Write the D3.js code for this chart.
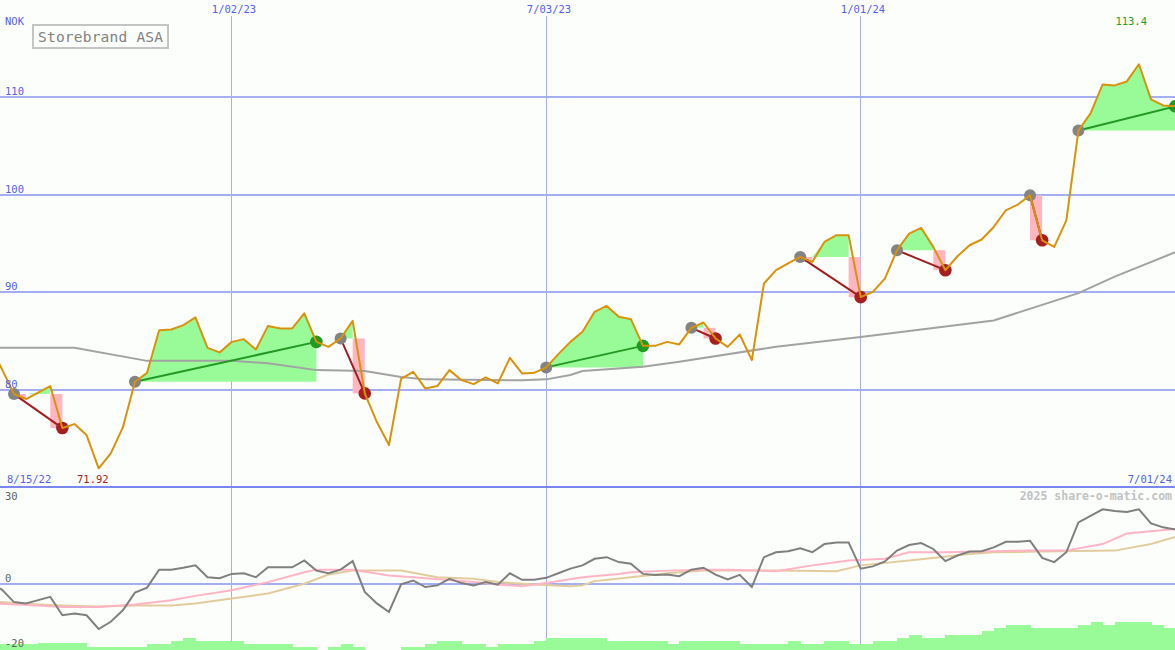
<!DOCTYPE html>
<html><head><meta charset="utf-8">
<script src="https://cdn.jsdelivr.net/npm/d3@7"></script>
<style>
html,body{margin:0;padding:0;background:#fcfefc;}
svg{display:block;}
text{font-family:"DejaVu Sans Mono","Liberation Mono",monospace;}
</style>
</head><body>
<svg id="chart" width="1175" height="650"></svg>
<script>
// ---------- DATA (weekly, first week = 8/15/22) ----------
const firstWeek = "2022-08-15";
const lastDate = "2024-07-01";
const price = [
 84.5, 82.1, 79.54, 79.03, 79.69, 80.36, 76.05, 76.46, 75.33, 71.92,
 73.46, 76.12, 80.8, 81.72, 86.1, 86.17, 86.62, 87.41, 84.29, 83.82,
 84.9, 85.18, 84.12, 86.54, 86.28, 86.28, 87.82, 84.9, 84.39, 85.25,
 87.06, 79.61, 76.67, 74.31, 81.1, 81.83, 80.12, 80.36, 82.0, 80.97,
 80.56, 81.25, 80.64, 83.26, 81.66, 81.72, 82.28, 83.64, 84.9, 85.93,
 87.98, 88.59, 87.47, 87.23, 84.49, 84.49, 84.9, 84.64, 86.34, 86.89,
 85.25, 84.39, 85.66, 83.03, 90.89, 92.26, 92.97, 93.62, 93.11, 95.16,
 95.85, 95.85, 89.49, 90.03, 91.4, 94.31, 96.02, 96.6, 94.65, 92.26,
 93.69, 94.82, 95.41, 96.7, 98.41, 99.0, 99.95, 95.33, 94.65, 97.38,
 106.6, 108.36, 111.33, 111.23, 111.64, 113.4, 109.79, 109.18, 109.08
];
// moving average (week index, value)
const maWeek  = [0, 7, 13, 20, 23, 27, 31, 34, 36, 44, 46, 48, 49, 54, 57, 65, 72, 83, 87, 90, 93, 98];
const maValue = [84.3, 84.3, 82.95, 82.95, 82.7, 82.0, 81.9, 81.3, 81.05, 80.95, 81.05, 81.5, 81.9, 82.35, 82.85, 84.4, 85.4, 87.1, 88.7, 89.9, 91.6, 94.1];
// signals (week indices)
const signalStart = [2, 12, 29, 46, 58, 67, 75, 86, 90];
const signalEnd   = [6, 27, 31, 54, 60, 72, 79, 87, 98];
// lower panel oscillator (weekly)
const osc = [
 0.5, -1.6, -5.4, -5.8, -4.8, -3.8, -9.4, -8.9, -9.4, -13.6,
 -11.4, -7.9, -2.5, -1.0, 4.5, 4.5, 5.1, 5.8, 2.2, 1.9,
 3.2, 3.4, 2.2, 5.2, 5.2, 5.2, 7.3, 4.2, 3.4, 4.5,
 7.1, -2.3, -5.8, -8.4, 0.0, 1.2, -0.8, -0.3, 1.7, 0.4,
 -0.3, 0.7, -0.1, 3.4, 1.4, 1.4, 2.0, 3.4, 4.8, 5.8,
 7.8, 8.3, 6.8, 6.3, 3.2, 2.9, 3.0, 2.5, 4.5, 5.1,
 3.0, 1.5, 2.9, -0.8, 8.3, 9.8, 10.1, 11.0, 9.8, 12.3,
 12.8, 12.8, 4.8, 5.5, 7.0, 10.3, 12.0, 12.6, 10.8, 7.1,
 8.8, 10.0, 10.1, 11.3, 13.0, 13.0, 13.3, 8.1, 6.8, 9.8,
 18.9, 20.9, 22.9, 22.4, 22.1, 22.9, 18.6, 17.4, 16.7
];
const pinkWeek  = [0, 4, 6, 9, 12, 15, 17, 20, 23, 26, 27, 30, 33, 35, 40, 42, 44, 46, 49, 52, 53, 56, 59, 61, 65, 68, 71, 74, 76, 79, 83, 86, 89, 92, 94, 98];
const pinkValue = [-5.8, -6.4, -6.9, -6.9, -6.1, -4.8, -3.5, -1.8, 0.7, 3.7, 4.5, 4.5, 2.7, 2.2, 0.7, 0, -0.6, 0.4, 2.2, 3.2, 3.7, 4.2, 4.5, 4.5, 4.0, 5.8, 7.3, 7.8, 9.8, 9.8, 10.1, 10.3, 10.3, 12.3, 15.5, 16.9];
const tanWeek  = [0, 4, 6, 9, 12, 15, 17, 20, 23, 26, 28, 30, 34, 37, 40, 42, 45, 48, 49, 50, 53, 56, 59, 61, 65, 70, 72, 76, 81, 83, 87, 93, 96, 98];
const tanValue = [-5.2, -6.1, -6.4, -6.7, -6.4, -6.4, -5.8, -4.3, -2.8, 0.2, 3.0, 4.2, 4.2, 2.2, 1.7, 0.7, 0, -0.6, -0.3, 1.0, 2.2, 3.4, 4.2, 4.2, 4.2, 4.0, 5.8, 7.3, 9.3, 9.8, 10.0, 10.3, 12.3, 14.5];
// histogram at the bottom (weekly)
const volume = [
 1.9, 1.9, 1.9, 1.9, 2.15, 2.15, 2.15, 2.15, 1.1, 1.1,
 1.1, 1.1, 1.1, 1.9, 1.9, 3.0, 3.8, 2.9, 2.9, 2.9,
 2.9, 1.9, 1.9, 1.9, 1.9, 1.1, 1.1, 0, 1.1, 1.9,
 1.1, 0, 0, 0, 1.1, 1.1, 1.9, 2.9, 2.9, 1.9,
 1.9, 1.1, 1.9, 1.9, 1.9, 2.9, 4.0, 4.0, 4.0, 4.0,
 4.0, 2.9, 2.9, 2.9, 2.9, 2.9, 1.9, 2.9, 2.9, 2.9,
 2.9, 2.9, 1.9, 1.9, 1.9, 1.9, 2.9, 1.9, 1.9, 2.9,
 2.9, 1.9, 1.9, 2.9, 2.9, 4.0, 4.8, 4.0, 4.0, 4.8,
 4.8, 4.8, 6.1, 7.2, 8.1, 8.1, 7.2, 7.2, 7.2, 7.2,
 8.1, 8.9, 8.1, 8.9, 8.9, 8.9, 8.1, 7.2, 7.2
];
const dateTicks = ["2023-01-02", "2023-07-03", "2024-01-01"];
const dateTickLabels = ["1/02/23", "7/03/23", "1/01/24"];
const priceTicks = [80, 90, 100, 110];
const lowerTicks = [30, 0, -20];
const title = "Storebrand ASA";
const currency = "NOK";
const startLabel = "8/15/22";
const endLabel = "7/01/24";
const minLabel = "71.92";
const maxLabel = "113.4";
const credit = "2025 share-o-matic.com";

// ---------- CHART ----------
const W = 1175, H = 650;
const parse = d3.utcParse("%Y-%m-%d");
const t0 = parse(firstWeek);
const weekDate = i => d3.utcDay.offset(t0, 7 * i);
const x = d3.scaleUtc().domain([t0, parse(lastDate)]).range([-10.2, 1175.2]);
const y = d3.scaleLinear().domain([70, 120]).range([487, 0]);
const y2 = d3.scaleLinear().domain([-20, 30]).range([650, 486]);
const hb = d3.scaleLinear().domain([0, 10]).range([0, 31]);
const xi = i => x(weekDate(i));

const svg = d3.select("#chart");
svg.append("rect").attr("width", W).attr("height", H).attr("fill", "#fcfefc");

const gridCol = "#a3aff2";
const blue = "#5060f0";

// horizontal grid (price)
svg.append("g").selectAll("line").data(priceTicks).join("line")
  .attr("x1", 0).attr("x2", W)
  .attr("y1", d => Math.round(y(d))).attr("y2", d => Math.round(y(d)))
  .attr("stroke", gridCol).attr("stroke-width", 2);
// lower zero line
svg.append("line").attr("x1", 0).attr("x2", W)
  .attr("y1", Math.round(y2(0))).attr("y2", Math.round(y2(0)))
  .attr("stroke", gridCol).attr("stroke-width", 2);
// vertical grid
svg.append("g").selectAll("line").data(dateTicks).join("line")
  .attr("x1", d => Math.floor(x(parse(d))) + 0.5).attr("x2", d => Math.floor(x(parse(d))) + 0.5)
  .attr("y1", 16).attr("y2", H)
  .attr("stroke", gridCol).attr("stroke-width", 1);
// panel separator
svg.append("line").attr("x1", 0).attr("x2", W).attr("y1", 487).attr("y2", 487)
  .attr("stroke", "#7a87ee").attr("stroke-width", 2);

// signal fills (one path per colour per signal, so no seams)
const gFill = svg.append("g");
const area = d3.area().x(d => xi(d.i)).y0(d => y(d.L)).y1(d => y(Math.max(d.p, d.L)));
signalStart.forEach((s, n) => {
  const e = signalEnd[n];
  const L = price[s];
  let green = "", pink = "";
  for (let i = s; i < e; i++) {
    if (price[i + 1] >= L) {
      green += area([{i: i, p: price[i], L: L}, {i: i + 1, p: price[i + 1], L: L}]);
    } else {
      const x0 = xi(i), x1 = xi(i + 1), ya = y(L), yb = y(price[i + 1]);
      pink += `M${x0},${ya}L${x1},${ya}L${x1},${yb}L${x0},${yb}Z`;
    }
  }
  if (green) gFill.append("path").attr("d", green).attr("fill", "#98fb98");
  if (pink) gFill.append("path").attr("d", pink).attr("fill", "#ffb6c1");
});

// moving average
const maLine = d3.line().x((d, j) => xi(maWeek[j])).y(d => y(d));
svg.append("path").attr("d", maLine(maValue)).attr("fill", "none")
  .attr("stroke", "#a2a2a2").attr("stroke-width", 2);

// signal connector lines
signalStart.forEach((s, n) => {
  const e = signalEnd[n];
  const up = price[e] >= price[s];
  svg.append("line")
    .attr("x1", xi(s)).attr("y1", y(price[s]))
    .attr("x2", xi(e)).attr("y2", y(price[e]))
    .attr("stroke", up ? "#229922" : "#a01e1e").attr("stroke-width", 2);
});
// dots
signalStart.forEach((s, n) => {
  const e = signalEnd[n];
  const up = price[e] >= price[s];
  svg.append("circle").attr("cx", xi(s)).attr("cy", y(price[s])).attr("r", 6).attr("fill", "#838383");
  svg.append("circle").attr("cx", xi(e)).attr("cy", y(price[e])).attr("r", 6.3)
    .attr("fill", up ? "#229922" : "#a51f1f");
});

// price line
const pLine = d3.line().x((d, i) => xi(i)).y(d => y(d));
svg.append("path").attr("d", pLine(price)).attr("fill", "none")
  .attr("stroke", "#d9920a").attr("stroke-width", 2).attr("stroke-linejoin", "round");

// lower panel: histogram
svg.append("g").attr("shape-rendering", "crispEdges").selectAll("rect").data(volume).join("rect")
  .attr("x", (d, i) => xi(i))
  .attr("width", (d, i) => xi(i + 1) - xi(i) + 0.5)
  .attr("y", d => H - hb(d))
  .attr("height", d => hb(d))
  .attr("fill", "#98fb98");

const tanLine = d3.line().x((d, j) => xi(tanWeek[j])).y(d => y2(d));
svg.append("path").attr("d", tanLine(tanValue)).attr("fill", "none")
  .attr("stroke", "#e3cc9c").attr("stroke-width", 2);
const pinkLine = d3.line().x((d, j) => xi(pinkWeek[j])).y(d => y2(d));
svg.append("path").attr("d", pinkLine(pinkValue)).attr("fill", "none")
  .attr("stroke", "#ffb4c6").attr("stroke-width", 2);
const oscLine = d3.line().x((d, i) => xi(i)).y(d => y2(d));
svg.append("path").attr("d", oscLine(osc)).attr("fill", "none")
  .attr("stroke", "#7f7f7f").attr("stroke-width", 2);

// ---------- TEXT ----------
const txt = (s, xx, yy, col, size, anchor) =>
  svg.append("text").text(s).attr("x", xx).attr("y", yy).attr("fill", col)
    .attr("font-size", size).attr("text-anchor", anchor || "start");

txt(currency, 5, 25, blue, 10.5);
priceTicks.forEach(v => txt(String(v), 5, Math.round(y(v)) - 2, blue, 10.5));
dateTicks.forEach((d, i) => txt(dateTickLabels[i], Math.floor(x(parse(d))) + 3, 13, blue, 10.5, "middle"));
txt(startLabel, 7, 483, blue, 10.5);
txt(minLabel, 77, 483, "#a01e1e", 10.5);
txt(endLabel, 1172, 483, blue, 10.5, "end");
txt(maxLabel, 1147, 25, "#22a022", 10.5, "end");
txt(credit, 1172, 500, "#c2c2c2", 11.5, "end").attr("font-weight", "bold");
lowerTicks.forEach((v, i) => {
  const yy = i === 0 ? 500 : (i === 1 ? Math.round(y2(v)) - 2 : 647);
  txt(String(v), 5, yy, "#606060", 10.5);
});

// title box
svg.append("rect").attr("x", 33).attr("y", 25).attr("width", 135).attr("height", 23)
  .attr("fill", "#fcfefc").attr("stroke", "#c4c4c4").attr("stroke-width", 2);
txt(title, 38, 42, "#808080", 14.5).attr("textLength", 125);
</script>
</body></html>
